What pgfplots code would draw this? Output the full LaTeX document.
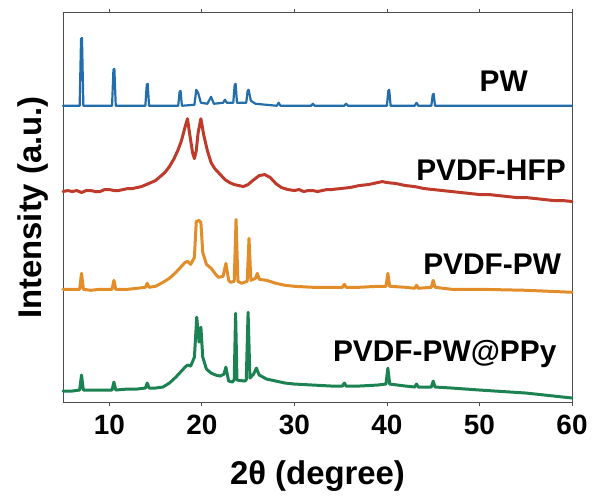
\documentclass[border=0pt]{standalone}
\usepackage{pgfplots}
\pgfplotsset{compat=1.18}
\usepackage{fontspec}
\setmainfont{Liberation Sans}
\definecolor{cpw}{RGB}{35,110,170}
\definecolor{chfp}{RGB}{190,58,42}
\definecolor{cpvpw}{RGB}{226,140,42}
\definecolor{cppy}{RGB}{28,130,82}
\begin{document}
\begin{tikzpicture}
\begin{axis}[
  scale only axis, width=509bp, height=389bp,
  xmin=5, xmax=60, ymin=0, ymax=390,
  xtick={10,20,...,60}, ytick=\empty,
  tick align=outside, major tick length=4bp,
  axis line style={draw=black!70, line width=1pt},
  tick style={draw=black!70, line width=0.8pt},
  /pgf/number format/assume math mode=true,
  ticklabel style={font=\fontsize{28}{30}\selectfont\bfseries},
  xticklabel style={yshift=-5bp},
  xlabel={2θ (degree)}, ylabel={Intensity (a.u.)},
  label style={font=\fontsize{33}{36}\selectfont\bfseries},
  xlabel style={at={(axis description cs:0.5,-0.19)}, anchor=center},
  ylabel style={at={(axis description cs:-0.059,0.5)}, anchor=center},
  every axis plot/.append style={line join=round, line cap=round},
  clip=false,
]
\addplot[cpw, line width=2.2pt] coordinates {
(5,297)(6.8,297)(6.95,364)(7.05,365)(7.2,297)(10.3,297)(10.45,333)(10.55,334)(10.7,297)(13.9,297)(14.05,318)(14.15,319)(14.3,297)
(17.45,297)(17.6,311)(17.7,312)(17.85,297)(19.2,298)(19.4,313)(19.6,310)(19.9,300)(20.6,299)(21.0,306)(21.3,299)
(22.3,300)(22.5,303)(22.7,300)(23.4,300)(23.55,318)(23.65,319)(23.8,300)(24.8,300)(24.95,312)(25.05,313)(25.3,302)(25.8,299)
(28.1,297)(28.3,300)(28.5,297)(31.8,297)(32.0,299)(32.2,297)(35.4,297)(35.6,299)(35.8,297)
(40.0,297)(40.15,312)(40.25,313)(40.4,297)(43.0,297)(43.2,300)(43.4,297)(44.8,297)(44.95,308)(45.05,309)(45.2,297)(60,297)};
\addplot[chfp, line width=3pt] coordinates {
(5,211)(5.5,212)(6,211)(6.5,212)(7,210)(7.5,212)(8,212)(8.5,211)(9,211)(9.5,213)(10,213)(10.5,212)(11,212)(11.5,213)(12,214)(12.5,214)
(13,215)(13.5,216)(14,218)(14.5,220)(15,222)(15.5,226)(16,230)(16.5,236)(17,244)(17.4,252)(17.8,262)(18.2,276)(18.45,284)
(18.7,268)(19.0,250)(19.2,244)(19.4,252)(19.6,270)(19.9,284)(20.2,268)(20.6,252)(21.0,240)(21.4,234)
(22,228)(22.5,223)(23,220)(23.5,218)(24,217)(24.5,216)(25,218)(25.5,222)(26.2,227)(26.8,228)(27.4,225)
(28,219)(28.6,215)(29.3,213)(30,212)(30.5,213)(31,211)(31.5,212)(32,212)(32.5,211)(33,212)(33.5,213)(34,213)(35,214)(36,215)
(37,217)(38,218)(39,220)(39.5,221)(40,220)(41,219)(42,217)(43,216)(44,214)(45,213)(46,212)(47,211)
(48,210)(49,209)(50,208)(51,208)(52,207)(53,206)(54,205)(55,205)(56,204)(57,203)(58,202)(59,202)(60,201)};
\addplot[cpvpw, line width=3pt] coordinates {
(5,113)(6,113)(6.8,113)(7.0,129)(7.2,113)(8,112)(9,113)(10.3,113)(10.5,122)(10.7,113)(12,113)(13,114)
(13.9,115)(14.1,119)(14.3,115)(15,116)(15.8,120)(16.5,124)(17.2,130)(17.8,136)(18.2,140)(18.45,141)
(18.8,138)(19.2,145)(19.4,181)(19.7,182)(19.9,180)(20.1,150)(20.5,138)(21,134)(21.5,128)(21.8,125)
(22.3,126)(22.6,139)(22.9,122)(23.1,120)(23.5,121)(23.7,183)(23.9,121)(24.3,119)(24.9,121)(25.1,164)
(25.3,122)(25.8,124)(26.0,129)(26.2,123)(27,122)(28,119)(29,117)(30,116)(32,115)(34,115)(35.2,115)
(35.4,118)(35.6,115)(37,115)(39,116)(39.9,116)(40.1,129)(40.3,116)(42,115)(43,114)(43.2,117)(43.4,114)
(44.8,115)(45.0,122)(45.2,115)(47,113)(50,113)(55,112)(60,110)};
\addplot[cppy, line width=3pt] coordinates {
(5,11)(6,11)(6.8,12)(7.0,27)(7.2,12)(8,12)(9,12)(10.3,12)(10.5,20)(10.7,12)(12,13)(13,13)
(13.9,14)(14.1,19)(14.3,14)(15,14)(15.8,15)(16.5,19)(17.2,25)(17.8,31)(18.2,35)(18.45,37)
(18.8,36)(19.2,45)(19.45,85)(19.7,60)(19.9,75)(20.1,45)(20.5,33)(21,29)(21.5,27)(22.0,26)
(22.4,28)(22.6,35)(22.9,21)(23.3,20)(23.5,22)(23.65,89)(23.8,22)(24.6,21)(24.8,22)(25.0,90)
(25.2,24)(25.6,28)(25.9,34)(26.2,27)(27,23)(28,21)(29,19)(30,18)(32,17)(34,16)(35.2,16)
(35.4,19)(35.6,16)(37,16)(39,17)(39.9,18)(40.1,34)(40.3,18)(42,16)(43,15)(43.2,18)(43.4,15)
(44.8,15)(45.0,21)(45.2,15)(47,14)(50,12)(55,9)(60,4)};
\node[anchor=east, font=\fontsize{30}{32}\selectfont\bfseries] at (axis cs:55.6,322) {PW};
\node[anchor=east, font=\fontsize{30}{32}\selectfont\bfseries] at (axis cs:59.7,232) {PVDF-HFP};
\node[anchor=east, font=\fontsize{30}{32}\selectfont\bfseries] at (axis cs:59.2,138) {PVDF-PW};
\node[anchor=east, font=\fontsize{30}{32}\selectfont\bfseries] at (axis cs:58.7,48) {PVDF-PW@PPy};
\end{axis}
\pgfresetboundingbox
\path ([xshift=-63bp,yshift=-97bp]current axis.south west) ([xshift=23bp,yshift=13bp]current axis.north east);
\end{tikzpicture}
\end{document}
